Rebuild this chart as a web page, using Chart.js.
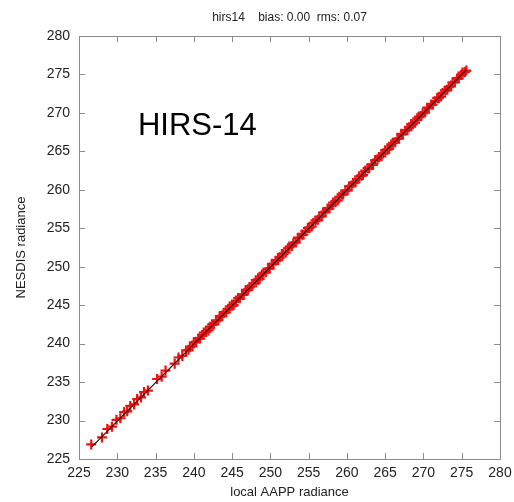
<!DOCTYPE html>
<html>
<head>
<meta charset="utf-8">
<script src="https://cdn.jsdelivr.net/npm/chart.js@4/dist/chart.umd.min.js"></script>
<style>
html,body{margin:0;padding:0;background:#fff;}
#wrap{width:514px;height:502px;position:relative;}
</style>
</head>
<body>
<div id="wrap"><canvas id="c" width="514" height="502"></canvas></div>
<script>
// ---- data ----
const chartTitle = "hirs14    bias: 0.00  rms: 0.07";
const insideLabel = "HIRS-14";
const xAxisTitle = "local AAPP radiance";
const yAxisTitle = "NESDIS radiance";
const tickValues = [225,230,235,240,245,250,255,260,265,270,275,280];

const localAAPP = [
226.6,228.0,228.7,229.3,229.9,230.4,230.9,231.3,231.7,232.2,232.6,233.1,233.5,234.0,235.2,235.8,236.3,237.5,238.0,238.5,
239.0,239.3,239.5,239.8,240.0,240.3,240.6,240.8,241.1,241.3,241.6,241.9,242.1,242.4,242.6,242.9,243.2,243.4,243.7,243.9,
244.2,244.5,244.7,245.0,245.2,245.5,245.8,246.0,246.3,246.5,246.8,247.1,247.3,247.6,247.8,248.1,248.4,248.6,248.9,249.1,
249.4,249.7,249.9,250.2,250.4,250.7,251.0,251.2,251.5,251.7,252.0,252.3,252.5,252.8,253.0,253.3,253.6,253.8,254.1,254.3,
254.6,254.9,255.1,255.4,255.6,255.9,256.2,256.4,256.7,256.9,257.2,257.5,257.7,258.0,258.2,258.5,258.8,259.0,259.3,259.5,
259.8,260.1,260.3,260.6,260.8,261.1,261.4,261.6,261.9,262.1,262.4,262.7,262.9,263.2,263.4,263.7,264.0,264.2,264.5,264.7,
265.0,265.3,265.5,265.8,266.0,266.3,266.6,266.8,267.1,267.3,267.6,267.9,268.1,268.4,268.6,268.9,269.2,269.4,269.7,269.9,
270.2,270.5,270.7,271.0,271.2,271.5,271.8,272.0,272.3,272.5,272.8,273.1,273.3,273.6,273.8,274.1,274.4,274.6,274.9,275.1,
275.4,275.6];
const nesdis = [
226.9,227.8,228.9,229.2,230.1,230.3,231.1,231.2,231.9,232.1,232.8,233.0,233.7,233.9,235.4,235.7,236.5,237.4,238.2,238.4,
239.12,239.20,239.54,239.64,240.18,240.26,240.68,240.66,241.12,241.45,241.52,241.72,242.20,242.52,242.50,242.94,243.04,243.58,243.66,243.98,
244.06,244.52,244.85,244.92,245.02,245.60,245.92,245.90,246.34,246.34,246.98,247.06,247.38,247.46,247.82,248.25,248.32,248.42,249.00,249.22,
249.30,249.74,249.74,250.38,250.36,250.78,250.86,251.22,251.65,251.62,251.82,252.40,252.62,252.70,253.04,253.14,253.78,253.76,254.18,254.16,
254.62,255.05,255.02,255.22,255.70,256.02,256.10,256.44,256.54,257.08,257.16,257.58,257.56,258.02,258.35,258.42,258.62,259.10,259.42,259.40,
259.84,259.94,260.48,260.56,260.88,260.96,261.42,261.75,261.82,261.92,262.50,262.82,262.80,263.24,263.24,263.88,263.96,264.28,264.36,264.72,
265.15,265.22,265.32,265.90,266.12,266.20,266.64,266.64,267.28,267.26,267.68,267.76,268.12,268.55,268.52,268.72,269.30,269.52,269.60,269.94,
270.04,270.68,270.66,271.08,271.06,271.52,271.95,271.92,272.12,272.60,272.92,273.00,273.34,273.44,273.98,274.06,274.48,274.46,274.92,275.25,
275.32,275.50];
const fitLineX = [226.7, 275.6];
const fitLineY = [226.6, 275.6];

const scatterPts = localAAPP.map((x,i)=>({x:x, y:nesdis[i]}));
const linePts = fitLineX.map((x,i)=>({x:x, y:fitLineY[i]}));

const AXIS_COLOR = '#8c8c8c';
const TEXT_COLOR = '#222';
const FONT = 'Liberation Sans, Arial, Helvetica, sans-serif';

const frame = {
  id: 'frame',
  afterDatasetsDraw(chart){
    const {ctx, chartArea:a, scales:{x,y}} = chart;
    ctx.save();
    ctx.strokeStyle = AXIS_COLOR;
    ctx.lineWidth = 1;
    ctx.beginPath();
    ctx.rect(Math.round(a.left)+0.5, Math.round(a.top)+0.5, Math.round(a.right-a.left), Math.round(a.bottom-a.top));
    ctx.stroke();
    const L = 6;
    ctx.beginPath();
    x.ticks.forEach(t=>{
      const px = Math.round(x.getPixelForValue(t.value))+0.5;
      ctx.moveTo(px, a.bottom); ctx.lineTo(px, a.bottom-L);
      ctx.moveTo(px, a.top); ctx.lineTo(px, a.top+L);
    });
    y.ticks.forEach(t=>{
      const py = Math.round(y.getPixelForValue(t.value))+0.5;
      ctx.moveTo(a.left, py); ctx.lineTo(a.left+L, py);
      ctx.moveTo(a.right, py); ctx.lineTo(a.right-L, py);
    });
    ctx.stroke();
    ctx.fillStyle = '#000';
    ctx.font = '31px ' + FONT;
    ctx.textAlign = 'left';
    ctx.textBaseline = 'alphabetic';
    ctx.fillText(insideLabel, x.getPixelForValue(232.7), y.getPixelForValue(267.1));
    ctx.restore();
  }
};

new Chart(document.getElementById('c'), {
  type: 'scatter',
  data: {
    datasets: [
      {
        type: 'line',
        data: linePts,
        borderColor: '#111',
        borderWidth: 1.2,
        pointRadius: 0,
        fill: false
      },
      {
        data: scatterPts,
        pointStyle: 'cross',
        pointRadius: 5,
        pointBorderWidth: 2.2,
        borderColor: '#f01010',
        backgroundColor: '#f01010',
        pointHoverRadius: 5
      }
    ]
  },
  options: {
    responsive: false,
    animation: false,
    events: [],
    layout: { padding: { left: 0, right: 14, top: 0, bottom: 0 } },
    plugins: {
      legend: { display: false },
      tooltip: { enabled: false },
      title: {
        display: true,
        text: chartTitle,
        fullSize: false,
        color: TEXT_COLOR,
        font: { family: FONT, size: 12, weight: 'normal', lineHeight: 1.2 },
        padding: { top: 10, bottom: 11.6 }
      }
    },
    scales: {
      x: {
        type: 'linear',
        min: 225, max: 280,
        afterBuildTicks(s){ s.ticks = tickValues.map(v=>({value:v})); },
        afterFit(s){ s.height = 43; s.paddingLeft = 0; s.paddingRight = 0; },
        grid: { display: true, drawOnChartArea: false, drawTicks: false, tickLength: 0 },
        border: { display: false },
        ticks: { color: TEXT_COLOR, font: { family: FONT, size: 14 }, padding: 6, maxRotation: 0 },
        title: { display: true, text: xAxisTitle, color: TEXT_COLOR, font: { family: FONT, size: 13 }, padding: { top: 0, bottom: 2 } }
      },
      y: {
        type: 'linear',
        min: 225, max: 280,
        afterBuildTicks(s){ s.ticks = tickValues.map(v=>({value:v})); },
        afterFit(s){ s.width = 79; s.paddingTop = 0; s.paddingBottom = 0; },
        grid: { display: true, drawOnChartArea: false, drawTicks: false, tickLength: 0 },
        border: { display: false },
        ticks: { color: TEXT_COLOR, font: { family: FONT, size: 14 }, padding: 9 },
        title: { display: true, text: yAxisTitle, color: TEXT_COLOR, font: { family: FONT, size: 13 }, padding: { top: 14, bottom: 0 } }
      }
    }
  },
  plugins: [frame]
});
</script>
</body>
</html>
